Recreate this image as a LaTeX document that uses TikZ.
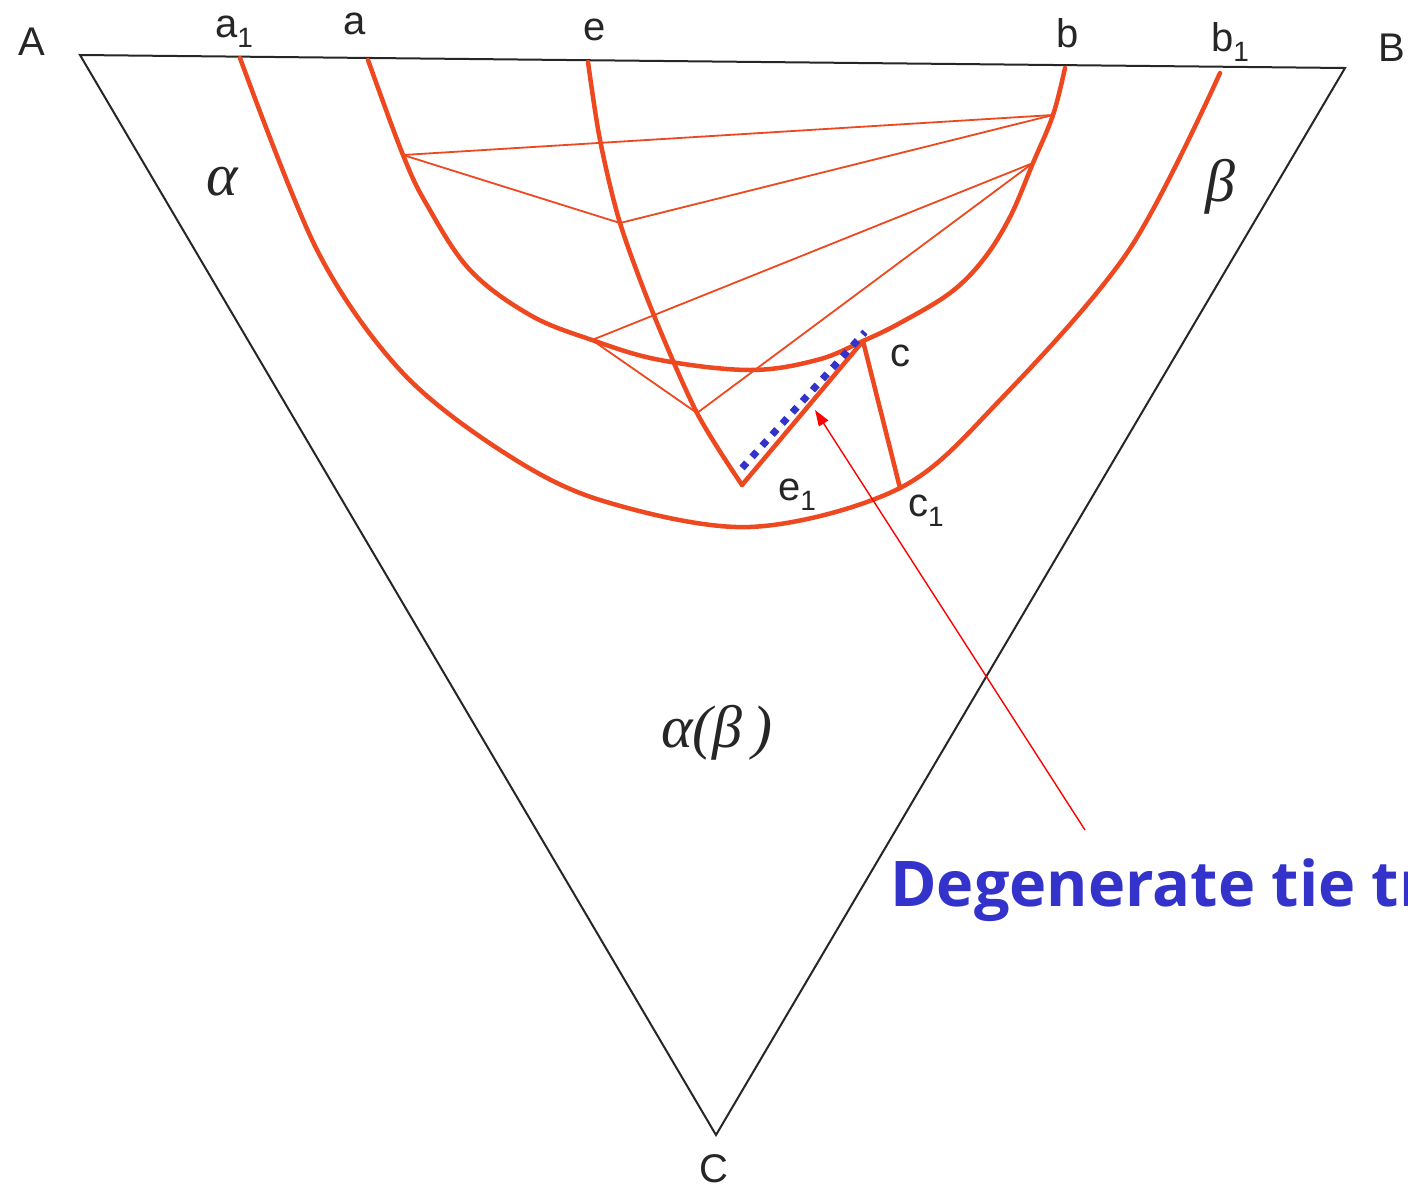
\documentclass[tikz,border=0pt]{standalone}
\usepackage{fontspec}
\setmainfont{Liberation Sans}
\newfontfamily\degfont{Open Sans}
\newfontfamily\grk{Liberation Serif}
\usetikzlibrary{arrows.meta}
\definecolor{phase}{RGB}{238,72,32}
\definecolor{tieblue}{RGB}{51,51,204}
\begin{document}
\begin{tikzpicture}[x=1pt,y=-1pt,
  frame/.style={black!85,line width=2pt,line join=miter},
  phaseline/.style={phase,line width=4.5pt,line cap=round,line join=round},
  tieline/.style={phase,line width=1.8pt},
  lbl/.style={anchor=base,inner sep=0pt,text=black!85,font=\fontsize{40}{40}\selectfont},
  subnum/.style={},
  greek/.style={inner sep=0pt,text=black!85,font=\grk\itshape\fontsize{60}{60}\selectfont}]
\useasboundingbox (0,0) rectangle (1408,1189);
\clip (0,0) rectangle (1408,1189);
\fill[white] (0,0) rectangle (1408,1189);
% triangle
\coordinate (A) at (80,55);
\coordinate (B) at (1345,68);
\coordinate (C) at (716,1135);
\draw[frame] (A) -- (B) -- (C) -- cycle;
% key points
\coordinate (a1) at (240,58);
\coordinate (b1) at (1220,73);
\coordinate (c1) at (900,488);
\coordinate (a) at (368,60);
\coordinate (b) at (1065,68);
\coordinate (c) at (863,341);
\coordinate (e) at (588,62);
\coordinate (e1) at (742,485);
\coordinate (P1) at (403,155);
\coordinate (Q1) at (1053,115);
\coordinate (E1) at (620,223);
\coordinate (P2) at (592,340);
\coordinate (Q2) at (1033,163);
\coordinate (E2) at (697,413);
% tie lines
\draw[tieline] (P1) -- (Q1);
\draw[tieline] (P1) -- (E1) -- (Q1);
\draw[tieline] (P2) -- (Q2);
\draw[tieline] (P2) -- (E2) -- (Q2);
% outer curve a1-b1
\draw[phaseline] plot[smooth,tension=0.55] coordinates {(a1) (317,250) (400,370) (500,450) (600,500) (750,527) (c1) (1000,400) (1129,250) (b1)};
% binodal a-c-b
\draw[phaseline] plot[smooth,tension=0.6] coordinates {(a) (P1) (427,205) (470,270) (530,315) (P2) (660,360) (750,370) (817,360) (c) (900,323) (950,293) (983,260) (1010,217) (Q2) (Q1) (b)};
% e curve
\draw[phaseline] plot[smooth,tension=0.5] coordinates {(e) (600,140) (E1) (653,313) (E2) (e1)};
\draw[phaseline] (e1) -- (c) -- (c1);
% degenerate tie triangle highlight
\coordinate (d1) at (742,468);
\coordinate (d2) at (865,332);
\draw[tieblue,line width=7pt,dash pattern=on 7pt off 8pt] (d1) -- (d2);
% arrow
\coordinate (arrS) at (1085,830);
\coordinate (arrT) at (815,410);
\draw[red,line width=1.4pt,-{Triangle[length=16pt,width=11pt]}] (arrS) -- (arrT);
% labels
\node[lbl] (lA) at (32,55) {A};
\node[lbl] (la1) at (234,37) {a\raisebox{-10pt}{\fontsize{28}{28}\selectfont 1}};
\node[lbl] (la) at (355,34) {a};
\node[lbl] (le) at (595,40) {e};
\node[lbl] (lb) at (1068,47) {b};
\node[lbl] (lb1) at (1230,51) {b\raisebox{-10pt}{\fontsize{28}{28}\selectfont 1}};
\node[lbl] (lB) at (1392,61) {B};
\node[lbl] (lc) at (900,366) {c};
\node[lbl] (le1) at (797,500) {e\raisebox{-10pt}{\fontsize{28}{28}\selectfont 1}};
\node[lbl] (lc1) at (926,516) {c\raisebox{-10pt}{\fontsize{28}{28}\selectfont 1}};
\node[lbl] (lC) at (714,1182) {C};
\node[greek] (lalpha) at (222,182) {α};
\node[greek] (lbeta) at (1220,187) {β};
\node[greek] (lab) at (717,733) {α(β\,)};
\node[anchor=base west,inner sep=0pt,text=tieblue,font=\degfont\bfseries\fontsize{63}{63}\selectfont] (ldeg) at (890,906) {Degenerate tie triangle};
\end{tikzpicture}
\end{document}
